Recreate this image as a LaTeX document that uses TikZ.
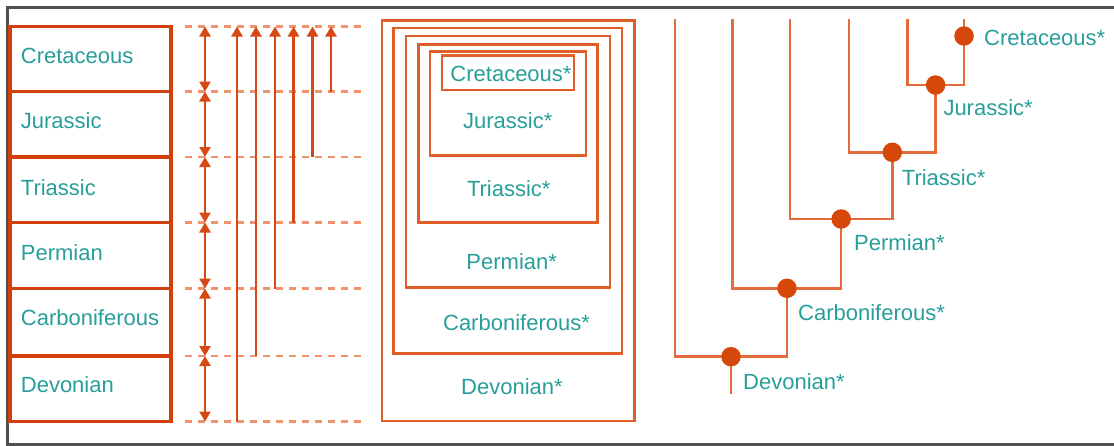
\documentclass[tikz,border=0pt]{standalone}
\usepackage{fontspec}
\setmainfont{Liberation Sans}
\usetikzlibrary{arrows.meta,fit}
\definecolor{boxred}{RGB}{212,64,12}
\definecolor{arrred}{RGB}{216,72,20}
\definecolor{dashor}{RGB}{240,146,108}
\definecolor{nestor}{RGB}{224,94,40}
\definecolor{treeor}{RGB}{228,108,58}
\definecolor{dotor}{RGB}{214,72,10}
\definecolor{txtteal}{RGB}{40,158,154}
\definecolor{framegr}{RGB}{80,80,80}
\begin{document}
\begin{tikzpicture}[x=1pt,y=-1pt,
  lbl/.style={text=txtteal,font=\fontsize{22}{26}\selectfont,inner sep=0pt},
  rowbox/.style={draw=boxred,line width=3.3pt,inner sep=0pt},
  nestbox/.style={draw=nestor,line width=2.6pt,inner sep=0pt},
  dashln/.style={draw=dashor,line width=2.2pt,dash pattern=on 7pt off 6pt},
  sglarrow/.style={draw=arrred,line width=2.8pt,-{Triangle[width=11pt,length=10pt]}},
  dblarrow/.style={draw=arrred,line width=2.8pt,{Triangle[width=11pt,length=10pt]}-{Triangle[width=11pt,length=10pt]}},
  treeln/.style={draw=treeor,line width=2.5pt},
  treedot/.style={circle,fill=dotor,inner sep=0pt,minimum size=19.5pt}]
\useasboundingbox (0,0) rectangle (1114,445);
\begin{scope}
\clip (0,0) rectangle (1114,445);
\draw[framegr,line width=3pt] (1130,7.5) -- (7.5,7.5) -- (7.5,444) -- (1130,444);
\end{scope}

% levels
\coordinate (L0) at (0,26.5);
\coordinate (L1) at (0,91.5);
\coordinate (L2) at (0,157);
\coordinate (L3) at (0,222.5);
\coordinate (L4) at (0,288.5);
\coordinate (L5) at (0,356);
\coordinate (L6) at (0,421.5);

% left rows
\node[rowbox,fit={(10,26.5) (171,91.5)}] (rCre) {};
\node[rowbox,fit={(10,91.5) (171,157)}] (rJur) {};
\node[rowbox,fit={(10,157) (171,222.5)}] (rTri) {};
\node[rowbox,fit={(10,222.5) (171,288.5)}] (rPer) {};
\node[rowbox,fit={(10,288.5) (171,356)}] (rCar) {};
\node[rowbox,fit={(10,356) (171,421.5)}] (rDev) {};
\node[lbl,anchor=base west] (tCre) at (20.7,63) {Cretaceous};
\node[lbl,anchor=base west] (tJur) at (20.7,128.3) {Jurassic};
\node[lbl,anchor=base west] (tTri) at (20.7,195) {Triassic};
\node[lbl,anchor=base west] (tPer) at (20.7,260) {Permian};
\node[lbl,anchor=base west] (tCar) at (20.7,325) {Carboniferous};
\node[lbl,anchor=base west] (tDev) at (20.7,392.7) {Devonian};

% dashed lines
\coordinate (D0) at (185,0);
\coordinate (D1) at (365,0);
\foreach \i in {0,...,6} {\draw[dashln] (D0 |- L\i) -- (D1 |- L\i);}

% arrows
\coordinate (A0) at (205,0);
\coordinate (A1) at (237,0);
\coordinate (A2) at (256,0);
\coordinate (A3) at (275,0);
\coordinate (A4) at (293.5,0);
\coordinate (A5) at (312.5,0);
\coordinate (A6) at (331,0);
\foreach \i/\j in {0/1,1/2,2/3,3/4,4/5,5/6} {\draw[dblarrow] (A0 |- L\i) -- (A0 |- L\j);}
\draw[sglarrow] (A1 |- L6) -- (A1 |- L0);
\draw[sglarrow] (A2 |- L5) -- (A2 |- L0);
\draw[sglarrow] (A3 |- L4) -- (A3 |- L0);
\draw[sglarrow] (A4 |- L3) -- (A4 |- L0);
\draw[sglarrow] (A5 |- L2) -- (A5 |- L0);
\draw[sglarrow] (A6 |- L1) -- (A6 |- L0);

% nested boxes
\node[nestbox,fit={(382,20.7) (634.3,421)}] (nDev) {};
\node[nestbox,fit={(393.5,28) (622,353.5)}] (nCar) {};
\node[nestbox,fit={(406,36) (610,287.5)}] (nPer) {};
\node[nestbox,fit={(418.5,44.3) (597.7,222.7)}] (nTri) {};
\node[nestbox,fit={(430,51.7) (586,155.5)}] (nJur) {};
\node[nestbox,fit={(442,55.7) (574,90)}] (nCre) {};
\node[lbl,anchor=base] (mCre) at (511,81.5) {Cretaceous*};
\node[lbl,anchor=base] (mJur) at (507.7,128) {Jurassic*};
\node[lbl,anchor=base] (mTri) at (508.8,196) {Triassic*};
\node[lbl,anchor=base] (mPer) at (511.7,269.3) {Permian*};
\node[lbl,anchor=base] (mCar) at (516.5,330.7) {Carboniferous*};
\node[lbl,anchor=base] (mDev) at (512,394.3) {Devonian*};

% tree
\coordinate (T1) at (675,19);
\coordinate (T2) at (732.7,19);
\coordinate (T3) at (790,19);
\coordinate (T4) at (849,19);
\coordinate (T5) at (907.3,19);
\coordinate (T6) at (964,19);
\coordinate (cCre) at (964,36);
\coordinate (cJur) at (935.6,85);
\coordinate (cTri) at (892.3,152.3);
\coordinate (cPer) at (841.2,219);
\coordinate (cCar) at (787,288.3);
\coordinate (cDev) at (731,356.7);
\coordinate (root) at (731,394);
\draw[treeln] (T5) -- (T5 |- cJur) -- (T6 |- cJur) -- (T6);
\draw[treeln] (T4) -- (T4 |- cTri) -- (cJur |- cTri) -- (cJur);
\draw[treeln] (T3) -- (T3 |- cPer) -- (cTri |- cPer) -- (cTri);
\draw[treeln] (T2) -- (T2 |- cCar) -- (cPer |- cCar) -- (cPer);
\draw[treeln] (T1) -- (T1 |- cDev) -- (cCar |- cDev) -- (cCar);
\draw[treeln] (cDev) -- (root);
\node[treedot] (dCre) at (cCre) {};
\node[treedot] (dJur) at (cJur) {};
\node[treedot] (dTri) at (cTri) {};
\node[treedot] (dPer) at (cPer) {};
\node[treedot] (dCar) at (cCar) {};
\node[treedot] (dDev) at (cDev) {};
\node[lbl,anchor=base west] (kCre) at (984,45) {Cretaceous*};
\node[lbl,anchor=base west] (kJur) at (943.3,115) {Jurassic*};
\node[lbl,anchor=base west] (kTri) at (901.7,185) {Triassic*};
\node[lbl,anchor=base west] (kPer) at (854,250) {Permian*};
\node[lbl,anchor=base west] (kCar) at (798,320.7) {Carboniferous*};
\node[lbl,anchor=base west] (kDev) at (743,389.3) {Devonian*};
\end{tikzpicture}
\end{document}
